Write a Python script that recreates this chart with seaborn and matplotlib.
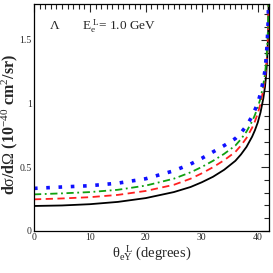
import matplotlib
matplotlib.use("Agg")
import matplotlib.pyplot as plt
import seaborn as sns
import numpy as np
from matplotlib.ticker import MultipleLocator

sns.set_theme(style="white")
plt.rcParams['font.family'] = ['Liberation Serif', 'DejaVu Serif']
plt.rcParams['mathtext.fontset'] = 'custom'
plt.rcParams['mathtext.rm'] = 'Liberation Serif'
plt.rcParams['mathtext.it'] = 'Liberation Serif'
plt.rcParams['mathtext.bf'] = 'Liberation Serif:bold'

theta = [0, 5, 10, 15, 20, 25, 28, 30, 32, 34, 36, 37, 38, 39, 39.5, 40, 40.5, 41, 41.3, 41.5, 41.7, 41.85, 41.95]
black = [0.196, 0.200, 0.210, 0.228, 0.258, 0.305, 0.345, 0.382, 0.425, 0.480, 0.550, 0.600, 0.660, 0.740, 0.790, 0.850, 0.930, 1.040, 1.130, 1.220, 1.360, 1.520, 1.780]
red   = [0.248, 0.255, 0.265, 0.283, 0.314, 0.362, 0.410, 0.452, 0.500, 0.555, 0.620, 0.670, 0.730, 0.810, 0.860, 0.920, 1.000, 1.110, 1.190, 1.280, 1.410, 1.560, 1.790]
green = [0.287, 0.295, 0.305, 0.323, 0.356, 0.410, 0.460, 0.502, 0.550, 0.605, 0.670, 0.720, 0.780, 0.860, 0.910, 0.970, 1.040, 1.150, 1.230, 1.320, 1.450, 1.600, 1.800]
blue  = [0.334, 0.345, 0.355, 0.375, 0.410, 0.472, 0.525, 0.570, 0.620, 0.670, 0.725, 0.770, 0.825, 0.900, 0.950, 1.000, 1.080, 1.180, 1.260, 1.350, 1.480, 1.630, 1.810]

fig = plt.figure(figsize=(2.73, 2.73), dpi=100)
ax = fig.add_axes([0.1245, 0.154, 0.8605, 0.831])

sns.lineplot(x=theta, y=black, ax=ax, color='black', lw=1.3, linestyle='-')
sns.lineplot(x=theta, y=red, ax=ax, color='#ff2020', lw=1.3, linestyle=(0, (4, 2.5)))
sns.lineplot(x=theta, y=green, ax=ax, color='#10a010', lw=1.3, linestyle=(0, (4, 2, 1, 2)))
sns.lineplot(x=theta, y=blue, ax=ax, color='#1010ff', lw=2.6, linestyle=(0, (1, 2.4)))

ax.set_xlim(0, 42)
ax.set_ylim(0, 1.78)
ax.xaxis.set_major_locator(MultipleLocator(10))
ax.xaxis.set_minor_locator(MultipleLocator(1))
ax.yaxis.set_major_locator(MultipleLocator(0.5))
ax.yaxis.set_minor_locator(MultipleLocator(0.1))
ax.set_yticks([0, 0.5, 1, 1.5])
ax.set_yticklabels(['0', '0.5', '1', '1.5'])
ax.tick_params(which='both', direction='in', top=True, right=True, labelsize=7, pad=1.5, width=0.8)
ax.tick_params(which='major', length=6)
ax.tick_params(which='minor', length=3.5)
for s in ax.spines.values():
    s.set_linewidth(0.9)
    s.set_color('black')

ax.set_xlabel(r'$\theta_{eY}^{\ \ L}$ (degrees)', fontsize=10.5, labelpad=1)
ax.set_ylabel(r'd$\sigma$/d$\Omega$ (10$^{-40}$ cm$^2$/sr)', fontsize=11.5, fontweight='bold')
ax.yaxis.label.set_verticalalignment('center')
ax.yaxis.set_label_coords(-0.105, 0.47)

ax.text(3.7, 1.61, r'$\Lambda$', fontsize=9.5, ha='center', va='center')
ax.text(8.6, 1.61, r'E$_e^{\ L}$= 1.0 GeV', fontsize=9.5, ha='left', va='center')

fig.savefig('out.png', dpi=100)
